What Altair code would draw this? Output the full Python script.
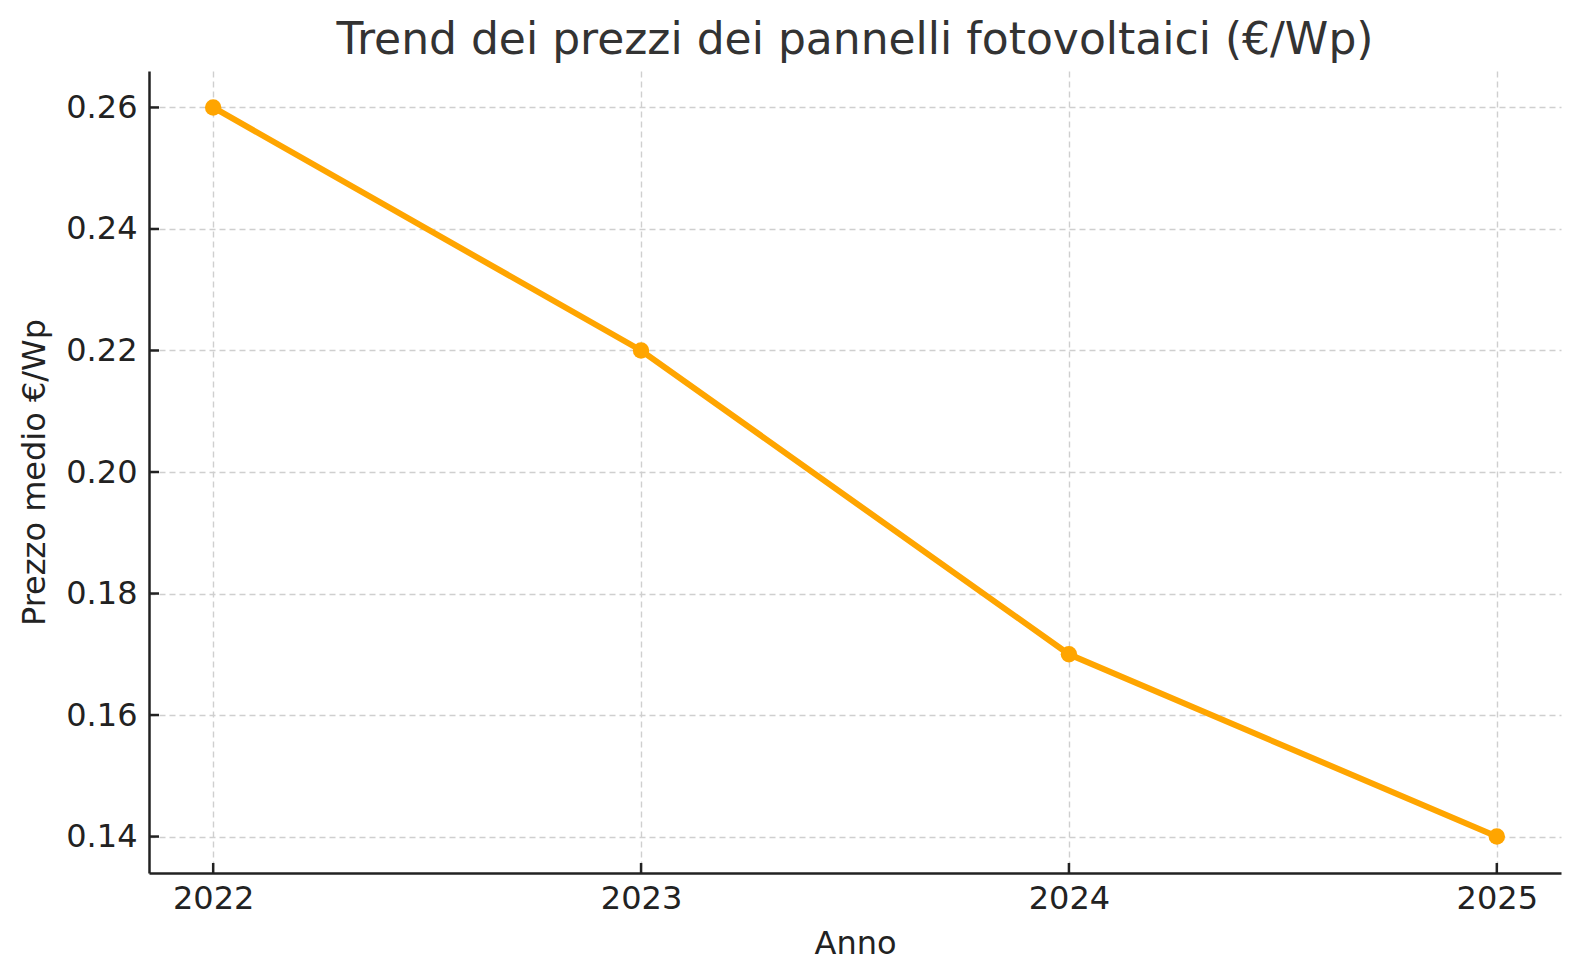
import pandas as pd
import altair as alt

# Prezzi medi dei pannelli (€/Wp)
anni = [2022, 2023, 2024, 2025]
prezzi = [0.26, 0.22, 0.17, 0.14]

y_ticks = [0.14, 0.16, 0.18, 0.20, 0.22, 0.24, 0.26]

df = pd.DataFrame({"anno": anni, "prezzo": prezzi})
yt = pd.DataFrame({"v": y_ticks})

W, H = 1412, 802
FONT = "DejaVu Sans"

x_scale = alt.Scale(domain=[2021.85, 2025.15], nice=False, zero=False)
y_scale = alt.Scale(domain=[0.134, 0.266], nice=False, zero=False)

x_enc = alt.X(
    "anno:Q", scale=x_scale, title="Anno",
    axis=alt.Axis(values=anni, format="d", labelFontSize=32, titleFontSize=32,
                  titleFontWeight="normal", labelPadding=10, titlePadding=14,
                  tickSize=0, grid=True, gridDash=[6, 4], gridColor="#cfcfcf",
                  gridWidth=1.4, domainColor="#222222", domainWidth=2.5,
                  labelColor="#222222", titleColor="#222222", labelFlush=False),
)
y_enc = alt.Y(
    "prezzo:Q", scale=y_scale, title="Prezzo medio €/Wp",
    axis=alt.Axis(values=y_ticks, format=".2f", labelFontSize=32, titleFontSize=32,
                  titleFontWeight="normal", labelPadding=12, titlePadding=14,
                  tickSize=0, grid=True, gridDash=[6, 4], gridColor="#cfcfcf",
                  gridWidth=1.4, domainColor="#222222", domainWidth=2.5,
                  labelColor="#222222", titleColor="#222222", labelFlush=False),
)

line = alt.Chart(df).mark_line(color="#FFA500", strokeWidth=6).encode(x=x_enc, y=y_enc)
points = alt.Chart(df).mark_circle(color="#FFA500", size=270, opacity=1).encode(
    x="anno:Q", y="prezzo:Q"
)

# tacche rivolte verso l'interno, come nell'originale
y_tacche = alt.Chart(yt).mark_rule(color="#222222", strokeWidth=2.5).encode(
    y=alt.Y("v:Q", scale=y_scale), x=alt.value(0), x2=alt.value(10)
)
x_tacche = alt.Chart(df).mark_rule(color="#222222", strokeWidth=2.5).encode(
    x=alt.X("anno:Q", scale=x_scale), y=alt.value(H), y2=alt.value(H - 10)
)

chart = alt.layer(line, points, y_tacche, x_tacche).properties(
    width=W,
    height=H,
    title=alt.TitleParams(
        "Trend dei prezzi dei pannelli fotovoltaici (€/Wp)",
        fontSize=44, fontWeight="normal", color="#333333", font=FONT,
        anchor="middle", baseline="alphabetic", offset=17, dy=44,
    ),
    autosize=alt.AutoSizeParams(type="none"),
    padding={"left": 141, "top": 63, "right": 10, "bottom": 99},
).configure(
    font=FONT
).configure_view(
    stroke=None
)

chart.save("out.html", embed_options={"renderer": "svg", "actions": False})
